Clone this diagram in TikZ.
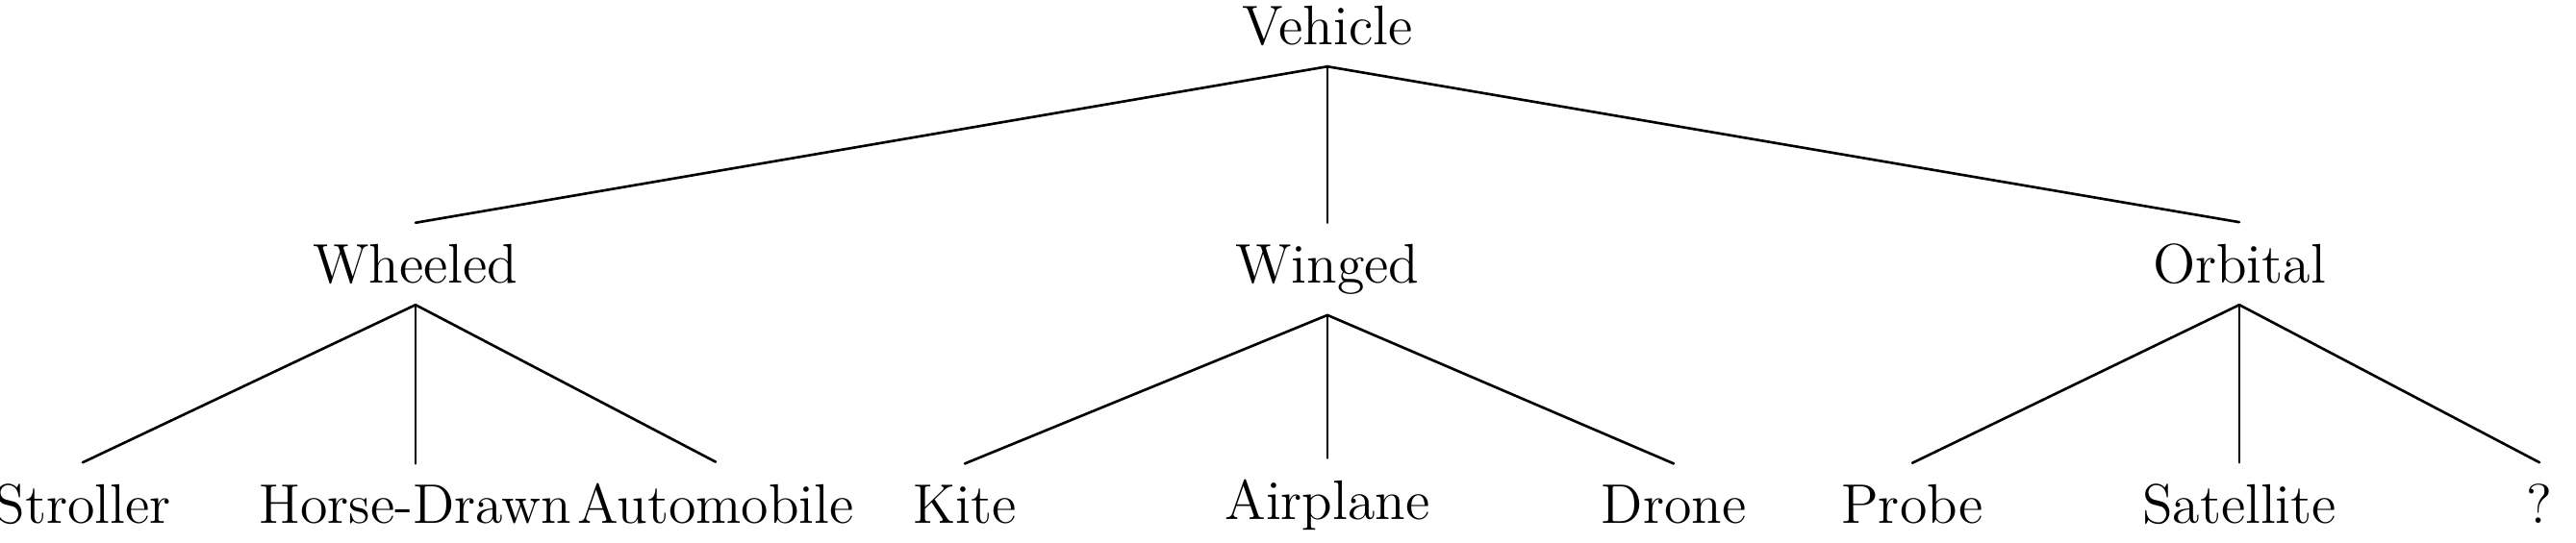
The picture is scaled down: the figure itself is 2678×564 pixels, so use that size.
\documentclass[tikz,border=0pt]{standalone}
\usepackage{tikz}
\begin{document}
\begin{tikzpicture}[line cap=round,line join=round,x=0.008cm,y=0.008cm,
  lbl/.style={inner sep=0pt,outer sep=5pt,anchor=base,font=\fontsize{13.2}{16}\selectfont},
  edge/.style={line width=0.6pt}]
\useasboundingbox (0,0) rectangle (2678,564);
% root
\node[lbl] (veh) at (1380,518) {Vehicle};
% middle level
\node[lbl] (whe) at (432,270) {Wheeled};
\node[lbl] (win) at (1380,270) {Winged};
\node[lbl] (orb) at (2328,270) {Orbital};
% leaves
\node[lbl] (str) at (86,20) {Stroller};
\node[lbl] (hor) at (432,20) {Horse-Drawn};
\node[lbl] (aut) at (744,20) {Automobile};
\node[lbl] (kit) at (1003,20) {Kite};
\node[lbl] (air) at (1380,24) {Airplane};
\node[lbl] (dro) at (1740,20) {Drone};
\node[lbl] (pro) at (1988,20) {Probe};
\node[lbl] (sat) at (2328,20) {Satellite};
\node[lbl] (unk) at (2640,20) {?};
\draw[edge] (veh.south) -- (whe.north);
\draw[edge] (veh.south) -- (win.north);
\draw[edge] (veh.south) -- (orb.north);
\draw[edge] (whe.south) -- (str.north);
\draw[edge] (whe.south) -- (hor.north);
\draw[edge] (whe.south) -- (aut.north);
\draw[edge] (win.south) -- (kit.north);
\draw[edge] (win.south) -- (air.north);
\draw[edge] (win.south) -- (dro.north);
\draw[edge] (orb.south) -- (pro.north);
\draw[edge] (orb.south) -- (sat.north);
\draw[edge] (orb.south) -- (unk.north);
\end{tikzpicture}
\end{document}
